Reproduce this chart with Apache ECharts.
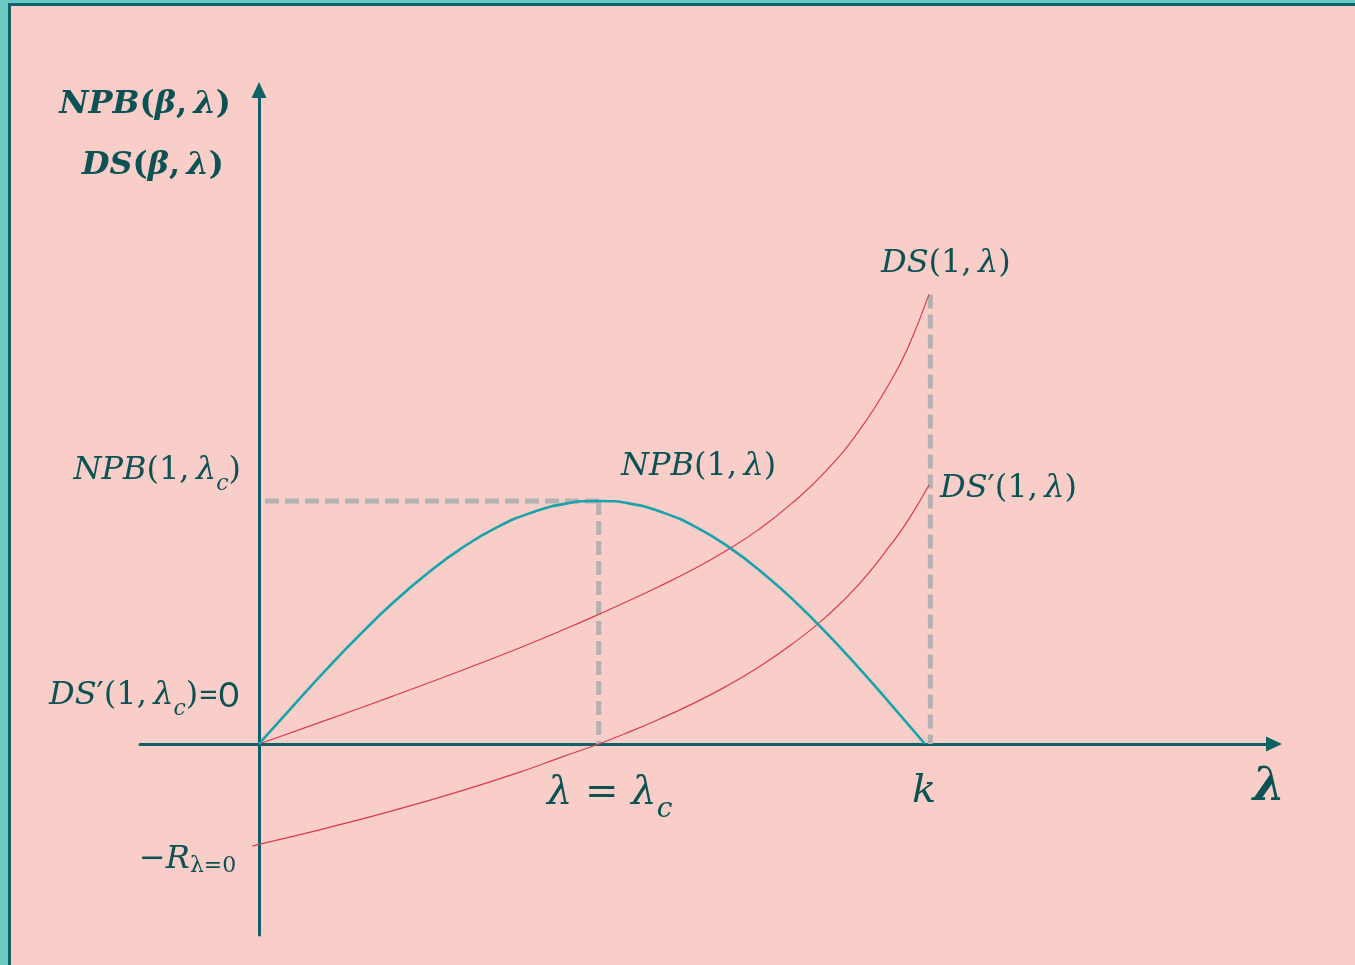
<!DOCTYPE html>
<html>
<head>
<meta charset="utf-8">
<script src="https://cdn.jsdelivr.net/npm/echarts@6/dist/echarts.min.js"></script>
<style>
  html, body { margin: 0; padding: 0; background: #F9CEC8; }
  #chart { width: 1355px; height: 965px; }
</style>
</head>
<body>
<div id="chart"></div>
<script>
// Net private benefit NPB(1, λ) — a hump that peaks at λc and falls back to zero at k
const npbLambda = [0, 0.51, 1.02, 1.53, 2.04, 2.55, 3.06, 3.57, 4.08, 4.59, 5.1,
                   5.59, 6.08, 6.57, 7.06, 7.55, 8.04, 8.53, 9.02, 9.51, 10];
const npbValues = [0, 0.156, 0.309, 0.454, 0.588, 0.707, 0.809, 0.891, 0.951, 0.988, 1.0,
                   0.988, 0.951, 0.891, 0.809, 0.707, 0.588, 0.454, 0.309, 0.156, 0];

// DS(1, λ) — rising, convex
const dsLambda = [0, 1, 2, 3, 4, 4.5, 5, 5.5, 6, 6.5, 7, 7.5, 8, 8.5, 9, 9.5, 9.75, 10.06];
const dsValues = [0, 0.097, 0.196, 0.298, 0.405, 0.462, 0.521, 0.583, 0.647, 0.716, 0.793, 0.882, 0.99, 1.12, 1.285, 1.50, 1.635, 1.85];

// DS'(1, λ) — starts at −R(λ=0), crosses zero at λc
const dsPrimeLambda = [-0.1, 0, 1, 2, 3, 4, 4.5, 5.1, 5.5, 6, 6.5, 7, 7.5, 8, 8.5, 9, 9.5, 9.75, 10.06];
const dsPrimeValues = [-0.42, -0.413, -0.347, -0.275, -0.196, -0.108, -0.058, 0, 0.043, 0.101, 0.164, 0.235, 0.316, 0.41, 0.52, 0.655, 0.825, 0.922, 1.066];

// Reference points
const LAMBDA_C = 5.1;      // λ = λc
const NPB_MAX = 1.0;       // NPB(1, λc)
const K_GUIDE = 10.08;     // guide at k
const GUIDE_START = 0.09;

const pairs = (xs, ys) => xs.map((x, i) => [x, ys[i]]);

const INK = '#0C5254';
const AXIS = '#0E6266';
const TEAL = '#17A2AC';
const RED = '#D63B50';
const GREY = '#B2B2B2';
const SERIF = "'DejaVu Serif', 'Liberation Serif', serif";
const SANS = "Lato, 'Open Sans', sans-serif";

// Rich-text styles for the formula labels; subscripts are lowered with top padding
function mathStyles(s, bold) {
  const H = Math.round(s * 1.25);
  const w = bold ? 'bold' : 'normal';
  const sub = Math.round(s * 0.7);
  const base = { fontFamily: SERIF, fontWeight: w, lineHeight: H, fill: INK };
  return {
    v:  Object.assign({}, base, { fontStyle: 'italic', fontSize: s }),
    u:  Object.assign({}, base, { fontStyle: 'normal', fontSize: s }),
    c:  Object.assign({}, base, { fontStyle: 'italic', fontSize: sub, padding: [Math.round(s * 0.8), 0, 0, 0] }),
    su: Object.assign({}, base, { fontStyle: 'normal', fontSize: sub, padding: [Math.round(s * 0.36), 0, 0, 0] }),
    sans: { fontFamily: SANS, fontStyle: 'normal', fontSize: Math.round(s * 1.1), lineHeight: H, fill: INK }
  };
}

function mathLabel(text, x, yCenter, s, align, bold) {
  const H = Math.round(s * 1.25);
  return {
    type: 'text', x: x, y: yCenter - H / 2, z: 50, silent: true,
    style: { text: text, rich: mathStyles(s, bold), align: align, verticalAlign: 'top', fill: INK,
             fontFamily: SERIF, fontSize: s }
  };
}

const TS = '\u2009';

const labels = [
  mathLabel('{v|NPB}{u|(}{v|β}{u|,' + TS + '}{v|λ}{u|)}', 231, 105, 32, 'right', true),
  mathLabel('{v|DS}{u|(}{v|β}{u|,' + TS + '}{v|λ}{u|)}', 224, 166, 32, 'right', true),
  mathLabel('{v|DS}{u|(1,' + TS + '}{v|λ}{u|)}', 881, 264, 32, 'left'),
  mathLabel('{v|NPB}{u|(1,' + TS + '}{v|λ}{u|)}', 621, 467, 32, 'left'),
  mathLabel('{v|DS}{u|′(1,' + TS + '}{v|λ}{u|)}', 940, 489, 32, 'left'),
  mathLabel('{v|NPB}{u|(1,' + TS + '}{v|λ}{c|c}{u|)}', 241, 471, 32, 'right'),
  mathLabel('{v|DS}{u|′(1,' + TS + '}{v|λ}{c|c}{u|)}{sans|=0}', 49, 696, 32, 'left'),
  mathLabel('{u|−}{v|R}{su|λ=0}', 139, 860, 32, 'left'),
  mathLabel('{v|λ}{u| = }{v|λ}{c|c}', 547, 794, 40, 'left'),
  mathLabel('{v|k}', 924, 792, 40, 'center'),
  mathLabel('{v|λ}', 1269, 788, 46, 'center', true)
];

// Frame: light teal band with a dark teal rule along the top and left edges
const frame = [
  { type: 'rect', z: 100, silent: true, shape: { x: 0, y: 0, width: 1355, height: 3 }, style: { fill: '#6BC9C3' } },
  { type: 'rect', z: 100, silent: true, shape: { x: 0, y: 0, width: 8, height: 965 }, style: { fill: '#6BC9C3' } },
  { type: 'rect', z: 101, silent: true, shape: { x: 8, y: 3, width: 1347, height: 3 }, style: { fill: '#0E6468' } },
  { type: 'rect', z: 101, silent: true, shape: { x: 8, y: 3, width: 3, height: 962 }, style: { fill: '#0E6468' } }
];

const axisLine = {
  show: true,
  onZero: true,
  symbol: ['none', 'triangle'],
  symbolSize: [15, 16],
  lineStyle: { color: AXIS, width: 3 }
};

const curve = (name, data, color, width, z) => ({
  type: 'line', name: name, data: data, symbol: 'none', showSymbol: false,
  smooth: 0.5, silent: true, z: z,
  lineStyle: { color: color, width: width }
});

const guide = (data) => ({
  type: 'line', data: data, symbol: 'none', showSymbol: false, silent: true, z: 1,
  lineStyle: { color: GREY, width: 5, type: [14, 6], cap: 'butt' }
});

const chart = echarts.init(document.getElementById('chart'), null, { renderer: 'canvas' });
chart.setOption({
  animation: false,
  backgroundColor: '#F9CEC8',
  grid: { left: 140, right: 81, top: 90, bottom: 30 },
  xAxis: {
    type: 'value', min: -1.787, max: 15.24,
    axisLine: axisLine, axisTick: { show: false }, axisLabel: { show: false }, splitLine: { show: false }
  },
  yAxis: {
    type: 'value', min: -0.786, max: 2.691,
    axisLine: axisLine, axisTick: { show: false }, axisLabel: { show: false }, splitLine: { show: false }
  },
  series: [
    guide([[GUIDE_START, NPB_MAX], [LAMBDA_C, NPB_MAX]]),
    guide([[LAMBDA_C, NPB_MAX], [LAMBDA_C, 0]]),
    guide([[K_GUIDE, dsValues[dsValues.length - 1]], [K_GUIDE, 0]]),
    curve('DS(1,λ)', pairs(dsLambda, dsValues), RED, 1.2, 3),
    curve("DS'(1,λ)", pairs(dsPrimeLambda, dsPrimeValues), RED, 1.2, 3),
    curve('NPB(1,λ)', pairs(npbLambda, npbValues), TEAL, 2.6, 4)
  ],
  graphic: frame.concat(labels)
});
</script>
</body>
</html>
